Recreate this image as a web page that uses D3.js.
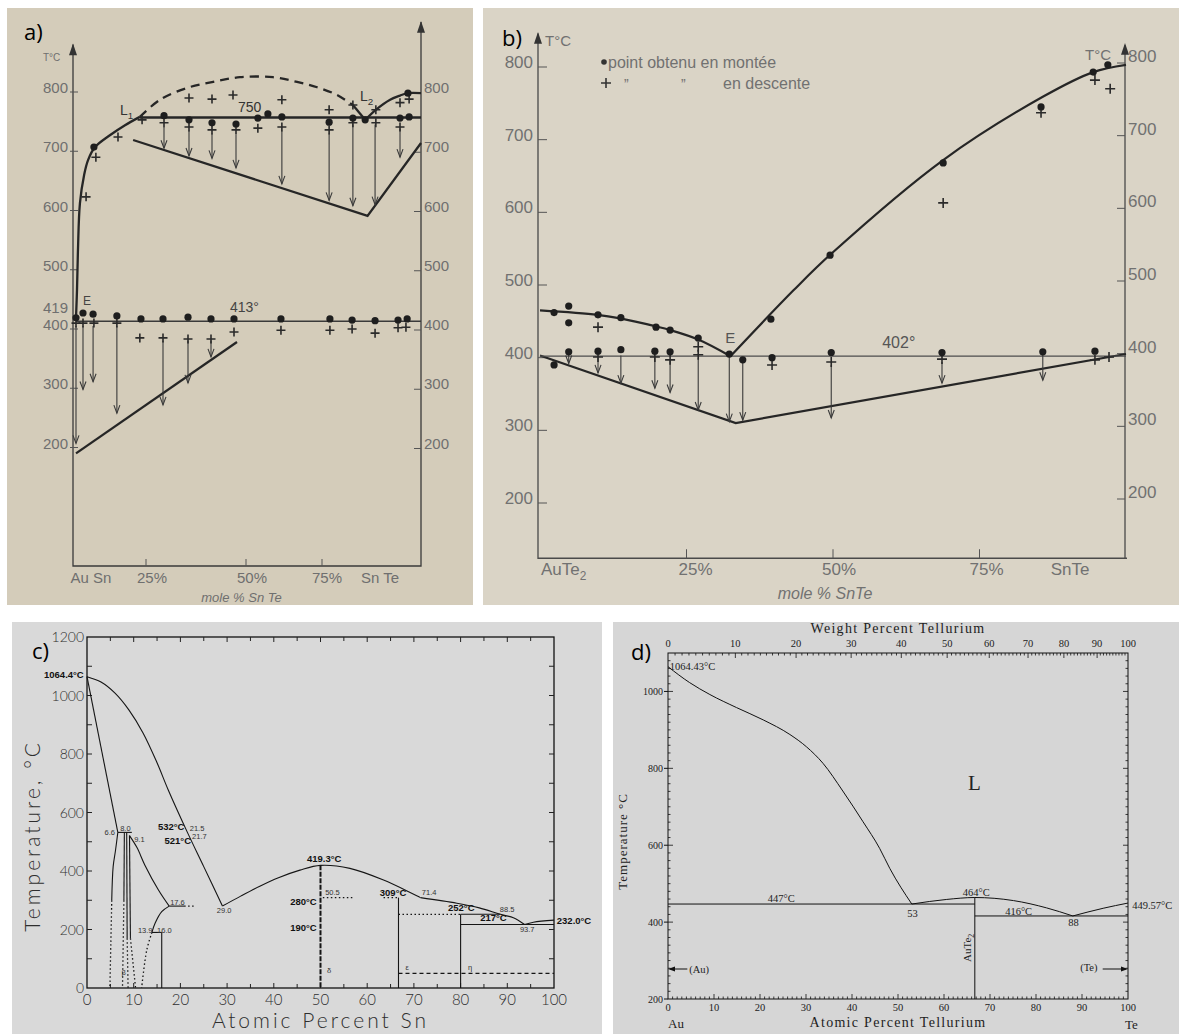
<!DOCTYPE html>
<html>
<head>
<meta charset="utf-8">
<script src="https://cdn.jsdelivr.net/npm/d3@7/dist/d3.min.js"></script>
<style>
  html, body { margin: 0; padding: 0; background: #ffffff; }
  svg { display: block; }
</style>
</head>
<body>
<script>
// ================= a) AuSn – SnTe section (mole % SnTe, °C) =================
const aCompTicks = [25, 50, 75];
const aCompLabels = ["Au Sn", "25%", "50%", "75%", "Sn Te"];
const aCompLabelValues = [0, 25, 50, 75, 100];
const aTempLeft = [800, 700, 600, 500, 419, 400, 300, 200];
const aTempRight = [800, 700, 600, 500, 400, 300, 200];
const aLiquidusAuSn = [[0,419],[0.36,466],[0.7,533],[1.4,612],[2.9,660],[4.3,685],[6.8,707],[12.1,727],[17.5,744],[22.8,758]];
const aGapDome = [[22.8,758],[28.5,787],[35.3,807],[41.8,817],[48.5,825],[58.9,825],[66.8,817],[73.4,808],[78.8,795],[82.8,778]];
const aLiquidusToL2 = [[82.8,778],[85.9,753]];
const aLiquidusSnTe = [[85.9,753],[88.6,770],[92.2,787],[94.7,794],[96.7,798],[100,798]];
const aMonotecticT = 757;
const aSolidusHigh = [[20.4,719],[86.5,591],[100,714]];
const aEutecticT = 413;
const aSolidusLow = [[0,190],[47.75,378]];
const aHeating = [[6.4,707],[29.5,760],[35.75,753],[41.5,748],[47.5,746],[53.9,756],[57.2,763],[61.8,758],
  [76.8,749],[82.8,756],[85.9,753],[94.7,756],[96.7,798],[97,758],
  [0,419],[2.5,427],[6.1,425],[14.6,422],[23.2,417],[29.25,417],[35.5,420],[41.25,417],[47,417],
  [61.5,417],[77,417],[82.6,415],[88.4,414],[94.2,415],[96.5,417]];
const aCooling = [[3.6,623],[7.1,690],[15,724],[23.6,753],[29.5,748],[35.75,790],[35.75,741],[41.5,788],[41.5,736],
  [46.75,795],[47.5,736],[53.9,739],[61.8,787],[61.8,741],[76.8,770],[76.8,736],[82.8,778],[82.8,748],
  [88.6,770],[88.6,748],[94.7,782],[94.7,741],[97,788],
  [0,410],[2.5,410],[6.4,410],[14.6,410],[22.8,385],[29.25,385],[35.5,383],[41.25,383],[47,395],
  [61.5,398],[77,398],[82.6,400],[88.4,393],[94.2,402],[96.2,403]];
// [composition, from T, to T]
const aArrows = [[29.5,741,705],[35.75,735,692],[41.5,730,688],[47.5,728,672],[61.8,735,645],[76.8,730,617],
  [82.8,745,608],[88.4,745,610],[94.7,738,690],
  [0,405,207],[2.5,405,298],[6.1,405,311],[14.6,405,258],[29.25,380,272],[35.5,380,309],[41.25,380,353]];

// ================= b) AuTe2 – SnTe section =================
const bCompTicks = [25, 50, 75];
const bCompLabelValues = [0, 25, 50, 75, 100];
const bTempTicks = [800, 700, 600, 500, 400, 300, 200];
const bLiquidusAuTe2 = [[0,465],[9.8,459],[13.7,454],[19.8,443],[22.2,438],[27,425],[32.5,402]];
const bLiquidusSnTe = [[32.5,402],[43.3,493],[49.7,543],[68.8,672],[85.8,759],[94.4,793],[100,803]];
const bEutecticT = 402;
const bSolidus = [[0,403],[33.4,310],[100,405]];
const bHeating = [[2.4,462],[4.9,471],[4.9,448],[9.9,459],[13.8,455],[19.8,442],[22.2,438],[27,427],[32.3,405],
  [34.6,397],[39.4,453],[39.6,400],[49.5,541],[68.8,668],[85.5,745],[94.4,793],[96.9,803],
  [2.4,390],[4.9,408],[9.9,409],[13.8,411],[19.6,409],[22.2,408],[49.7,407],[68.6,407],[85.8,408],[94.7,409]];
const bCooling = [[9.9,442],[9.9,401],[19.6,401],[22.2,397],[27,415],[27,404],[39.6,390],[49.7,394],[68.6,398],
  [94.7,397],[97.1,401],[68.8,613],[85.5,737],[94.7,782],[97.3,770]];
const bArrows = [[4.9,404,392],[9.9,400,379],[13.8,403,365],[19.6,400,358],[22.2,396,352],[27,400,328],
  [32.3,404,312],[34.6,396,314],[49.7,390,317],[68.6,394,365],[85.8,404,369]];

// ================= c) Au – Sn (atomic percent Sn) =================
const cTempLabels = [0, 200, 400, 600, 800, 1000, 1200];
const cCompLabels = [0, 10, 20, 30, 40, 50, 60, 70, 80, 90, 100];
const cLiquidusAu = [[0,1064.4],[3,1046],[6,1008],[9,950],[12,872],[15,770],[17.4,677],[21.5,532],[25,415],[29,280]];
const cLiquidusSnA = [[29,280],[33,315],[37,348],[41,377],[45.6,403],[50,419.3],[56.3,409],[63.5,369],[71.4,309]];
const cLiquidusSnB = [[71.4,309],[79.2,290],[84,274],[88.5,252],[91.3,240],[93.7,217]];
const cLiquidusSnC = [[93.7,217],[95.6,225],[100,232]];
const cAlphaSolidus = [[0,1064.4],[6.6,532]];
const cAlphaSolvus = [[6.6,532],[6.1,470],[5.6,415],[5.3,300]];
const cAlphaSolvusLow = [[5.3,300],[5.1,150],[4.9,0]];
const cBetaLeft = [[8.0,532],[7.9,300]];
const cBetaLeftLow = [[7.9,300],[7.6,0]];
const cBetaRight = [[8.5,532],[8.6,170]];
const cBetaRightLow = [[8.6,170],[8.8,0]];
const cZetaLeft = [[9.1,521],[9.3,170]];
const cZetaLeftLow = [[9.3,170],[10.4,0]];
const cZetaLiquidus = [[9.1,521],[10.7,480],[12.4,420],[15.3,335],[17.6,280]];
const cZetaSolvus = [[17.6,280],[16,261],[14.6,222],[13.9,190]];
const cZetaSolvusLow = [[13.9,190],[12.8,130],[11.7,0]];
// [T, from %, to %]
const cSolidIsotherms = [[532,6.6,9.6],[190,13.9,16.0],[280,17.6,20.8],[252,80,88.5],[217,80,100]];
const cDottedIsotherms = [[280,20.8,23],[309,50.5,57],[309,63.5,66.7],[252,66.7,80]];
const cDashedIsotherms = [[50,66.7,100]];
// [%, top T, bottom T]
const cCompounds = [[16.0,190,0],[66.7,309,0],[80,252,0]];
const cDelta = [50,419.3,0];
// [text, %, T, anchor, bold]
const cNotes = [["1064.4°C",-0.7,1060,"end",1],["6.6",6.0,523,"end",0],["8.0",7.1,537,"start",0],
  ["9.1",10.1,499,"start",0],["532°C",15.2,540,"start",1],["521°C",16.6,492,"start",1],
  ["21.5",22.0,537,"start",0],["21.7",22.5,509,"start",0],["17.6",17.8,284,"start",0],
  ["29.0",27.8,257,"start",0],["13.9",10.9,188,"start",0],["16.0",15.0,188,"start",0],
  ["280°C",43.5,284,"start",1],["190°C",43.5,195,"start",1],["50.5",51.0,318,"start",0],
  ["419.3°C",47.1,431,"start",1],["309°C",62.7,315,"start",1],["71.4",71.7,318,"start",0],
  ["252°C",77.3,262,"start",1],["88.5",88.4,261,"start",0],["217°C",84.2,230,"start",1],
  ["93.7",92.7,190,"start",0],["232.0°C",100.6,219,"start",1],
  ["δ",51.4,52,"start",0],["ε",68.2,60,"start",0],["η",81.6,62,"start",0],["β",7.4,45,"start",0]];

// ================= d) Au – Te (atomic / weight percent Te) =================
const dTempLabels = [200, 400, 600, 800, 1000];
const dAtomicLabels = [0, 10, 20, 30, 40, 50, 60, 70, 80, 90, 100];
const dWeightLabels = [0, 10, 20, 30, 40, 50, 60, 70, 80, 90, 100];
const dMassAu = 196.97, dMassTe = 127.60;
const dLiquidusAu = [[0,1064.43],[4.7,1023],[9.1,992],[14.9,958],[20.7,926],[26.5,888],[30.1,856],[33.7,813],
  [38,741],[42.4,661],[46,592],[48.2,540],[53,447]];
const dLiquidusAuTe2 = [[53,447],[60.6,459],[66.7,464],[75.1,456],[82.3,437],[88,416]];
const dLiquidusTe = [[88,416],[94.6,436],[100,449.57]];
// [T, from %, to %]
const dEutectics = [[447,0,66.7],[416,66.7,100]];
const dCompound = [66.7,464,200];
const dNotes = [["1064.43°C",0.4,1056],["447°C",21.7,452],["53",52,413],["464°C",64.1,468],
  ["416°C",73.3,418],["88",87,390],["449.57°C",100.9,434]];

// ---------------------------------------------------------------------------
const svg = d3.select("body").append("svg").attr("width", 1179).attr("height", 1034);

// panel backgrounds
svg.append("rect").attr("x", 7).attr("y", 8).attr("width", 466).attr("height", 597).attr("fill", "#d4ccba");
svg.append("rect").attr("x", 483).attr("y", 8).attr("width", 696).attr("height", 597).attr("fill", "#dad4c6");
svg.append("rect").attr("x", 12).attr("y", 622).attr("width", 590).attr("height", 412).attr("fill", "#d9d9d9");
svg.append("rect").attr("x", 613).attr("y", 622).attr("width", 566).attr("height", 412).attr("fill", "#d6d6d6");

function drawDot(g, x, y, r, color) {
  g.append("circle").attr("cx", x).attr("cy", y).attr("r", r).attr("fill", color);
}
function drawPlus(g, x, y, s, color, w) {
  g.append("path").attr("d", `M${x - s},${y}H${x + s}M${x},${y - s}V${y + s}`)
    .attr("stroke", color).attr("stroke-width", w).attr("fill", "none");
}
function drawDownArrow(g, x, y1, y2, color) {
  g.append("line").attr("x1", x).attr("x2", x).attr("y1", y1).attr("y2", y2)
    .attr("stroke", color).attr("stroke-width", 1.1);
  g.append("path").attr("d", `M${x - 3},${y2 - 8}L${x},${y2}L${x + 3},${y2 - 8}`)
    .attr("stroke", color).attr("stroke-width", 1.1).attr("fill", "none");
}
function label(g, x, y, txt, size, opts = {}) {
  return g.append("text").attr("x", x).attr("y", y).text(txt)
    .attr("font-size", size)
    .attr("font-family", opts.family || "Liberation Sans, Arial, sans-serif")
    .attr("fill", opts.fill || "#222")
    .attr("text-anchor", opts.anchor || "start")
    .attr("font-weight", opts.weight || "normal")
    .attr("font-style", opts.style || "normal");
}
function subLabel(g, x, y, main, sub, size, fill) {
  const t = g.append("text").attr("x", x).attr("y", y).attr("font-size", size)
    .attr("font-family", "Liberation Sans, Arial, sans-serif").attr("fill", fill);
  t.append("tspan").text(main);
  t.append("tspan").attr("dy", size * 0.3).attr("font-size", size * 0.7).text(sub);
  return t;
}
function panelTag(txt, x, y) {
  return label(svg, x, y, txt, 22, { family: "Open Sans, Liberation Sans, sans-serif", fill: "#000" });
}

// ============================== panel a ==============================
{
  const g = svg.append("g");
  const ink = "#262626", grey = "#6f6f6f";
  const x = d3.scaleLinear().domain([0, 25, 50, 75, 100]).range([76, 146, 246, 322, 421]);
  const y = d3.scaleLinear().domain([0, 800]).range([566, 92]);
  const line = d3.line().x(d => x(d[0])).y(d => y(d[1]));
  const smooth = d3.line().x(d => x(d[0])).y(d => y(d[1])).curve(d3.curveCatmullRom.alpha(0.5));
  const axL = x(0) - 3, axR = x(100);

  g.append("path").attr("d", `M${axL},${y(880)}V${y(0)}H${axR}V${y(918)}`)
    .attr("stroke", "#3a3a3a").attr("stroke-width", 1.3).attr("fill", "none");
  g.append("path").attr("d", `M${axL - 4},${y(862)}L${axL},${y(882)}L${axL + 4},${y(862)}Z`).attr("fill", "#333");
  g.append("path").attr("d", `M${axR - 4},${y(900)}L${axR},${y(920)}L${axR + 4},${y(900)}Z`).attr("fill", "#333");
  label(g, axL - 30, y(852), "T°C", 10, { fill: grey });

  aTempLeft.forEach(t => {
    if (t !== 419) g.append("line").attr("x1", axL - 3).attr("x2", axL + 5).attr("y1", y(t)).attr("y2", y(t))
      .attr("stroke", "#555").attr("stroke-width", 1);
    label(g, axL - 5, y(t) + (t === 419 ? -5 : 1), String(t), 15, { anchor: "end", fill: grey });
  });
  aTempRight.forEach(t => {
    g.append("line").attr("x1", axR - 7).attr("x2", axR).attr("y1", y(t) + 1).attr("y2", y(t) + 1)
      .attr("stroke", "#555").attr("stroke-width", 1);
    label(g, axR + 3, y(t) + 1, String(t), 15, { fill: grey });
  });
  aCompTicks.forEach(c => g.append("line").attr("x1", x(c)).attr("x2", x(c)).attr("y1", y(0)).attr("y2", y(0) - 7)
    .attr("stroke", "#555").attr("stroke-width", 1));
  const aLabelShift = [15, 6, 6, 5, -41];
  aCompLabels.forEach((s, i) => label(g, x(aCompLabelValues[i]) + aLabelShift[i], y(0) + 17, s, 15,
    { anchor: "middle", fill: grey }));
  label(g, (x(0) + x(100)) / 2 - 7, y(0) + 36, "mole % Sn Te", 13, { anchor: "middle", fill: grey, style: "italic" });

  const strong = p => p.attr("stroke", ink).attr("stroke-width", 2.3).attr("fill", "none");
  strong(g.append("path").attr("d", smooth(aLiquidusAuSn)));
  strong(g.append("path").attr("d", smooth(aGapDome))).attr("stroke-dasharray", "9,6");
  strong(g.append("path").attr("d", line(aLiquidusToL2)));
  strong(g.append("path").attr("d", smooth(aLiquidusSnTe)));
  strong(g.append("path").attr("d", line([[22.8, aMonotecticT], [100, aMonotecticT]])));
  strong(g.append("path").attr("d", line(aSolidusHigh)));
  strong(g.append("path").attr("d", line(aSolidusLow)));
  g.append("path").attr("d", line([[0, aEutecticT], [100, aEutecticT]]))
    .attr("stroke", "#3a3a3a").attr("stroke-width", 1.6).attr("fill", "none");

  aArrows.forEach(a => drawDownArrow(g, x(a[0]), y(a[1]), y(a[2]), "#3a3a3a"));
  aCooling.forEach(p => drawPlus(g, x(p[0]), y(p[1]), 4.5, "#2a2a2a", 1.6));
  aHeating.forEach(p => drawDot(g, x(p[0]), y(p[1]), 3.6, "#1e1e1e"));

  subLabel(g, x(15.7), y(761), "L", "1", 14, "#333");
  subLabel(g, x(84.6), y(785), "L", "2", 14, "#333");
  label(g, x(48), y(766), "750", 14, { fill: "#333" });
  label(g, x(2.5), y(440), "E", 12, { fill: "#444" });
  label(g, x(46), y(429), "413°", 14, { fill: "#444" });
  panelTag("a)", 24, 40);
}

// ============================== panel b ==============================
{
  const g = svg.append("g");
  const ink = "#262626", grey = "#717171";
  const x = d3.scaleLinear().domain([0, 100]).range([540, 1126]);
  const y = d3.scaleLinear().domain([200, 800]).range([503, 67]);
  const line = d3.line().x(d => x(d[0])).y(d => y(d[1]));
  const smooth = d3.line().x(d => x(d[0])).y(d => y(d[1])).curve(d3.curveCatmullRom.alpha(0.5));
  const axL = x(0) - 2, axR = x(100) - 1, yBase = y(124);

  g.append("path").attr("d", `M${axL},${y(846)}V${yBase}H${axR + 2}`)
    .attr("stroke", "#4a4a4a").attr("stroke-width", 1.3).attr("fill", "none");
  g.append("path").attr("d", `M${axR},${yBase}V${y(830)}`)
    .attr("stroke", "#4a4a4a").attr("stroke-width", 1.3).attr("fill", "none");
  g.append("path").attr("d", `M${axL - 4},${y(832)}L${axL},${y(848)}L${axL + 4},${y(832)}Z`).attr("fill", "#333");
  g.append("path").attr("d", `M${axR - 4},${y(817)}L${axR},${y(833)}L${axR + 4},${y(817)}Z`).attr("fill", "#333");
  label(g, axL + 7, y(829), "T°C", 15, { fill: grey });
  label(g, axR - 40, y(809), "T°C", 15, { fill: grey });

  bTempTicks.forEach(t => {
    g.append("line").attr("x1", axL).attr("x2", axL + 9).attr("y1", y(t)).attr("y2", y(t))
      .attr("stroke", "#555").attr("stroke-width", 1);
    label(g, axL - 5, y(t) + 1, String(t), 17, { anchor: "end", fill: grey });
    g.append("line").attr("x1", axR - 8).attr("x2", axR).attr("y1", y(t) - 4).attr("y2", y(t) - 4)
      .attr("stroke", "#555").attr("stroke-width", 1);
    label(g, axR + 3, y(t) - 5, String(t), 17, { fill: grey });
  });
  bCompTicks.forEach(c => g.append("line").attr("x1", x(c)).attr("x2", x(c)).attr("y1", yBase).attr("y2", yBase - 9)
    .attr("stroke", "#555").attr("stroke-width", 1));
  const bShift = [12, 9, 6, 7, -56];
  subLabel(g, x(bCompLabelValues[0]) + bShift[0] - 11, yBase + 17, "AuTe", "2", 17, grey);
  ["25%", "50%", "75%"].forEach((s, i) =>
    label(g, x(bCompLabelValues[i + 1]) + bShift[i + 1], yBase + 17, s, 17, { anchor: "middle", fill: grey }));
  label(g, x(100) + bShift[4], yBase + 17, "SnTe", 17, { anchor: "middle", fill: grey });
  label(g, x(50) - 8, yBase + 41, "mole % SnTe", 16, { anchor: "middle", fill: grey, style: "italic" });

  const strong = p => p.attr("stroke", ink).attr("stroke-width", 2.2).attr("fill", "none");
  strong(g.append("path").attr("d", smooth(bLiquidusAuTe2)));
  strong(g.append("path").attr("d", smooth(bLiquidusSnTe)));
  strong(g.append("path").attr("d", line(bSolidus)));
  g.append("path").attr("d", line([[0, bEutecticT], [100, bEutecticT]]))
    .attr("stroke", "#4d4d4d").attr("stroke-width", 1.2).attr("fill", "none");

  bArrows.forEach(a => drawDownArrow(g, x(a[0]), y(a[1]), y(a[2]), "#3a3a3a"));
  bCooling.forEach(p => drawPlus(g, x(p[0]), y(p[1]), 5, "#2a2a2a", 1.6));
  bHeating.forEach(p => drawDot(g, x(p[0]), y(p[1]), 3.6, "#1e1e1e"));

  label(g, x(31.6), y(420), "E", 15, { fill: "#555" });
  label(g, x(58.4), y(413), "402°", 16, { fill: "#555" });

  // legend
  drawDot(g, 604, 62, 2.8, "#333");
  label(g, 608, 68, "point obtenu en montée", 16, { fill: grey });
  drawPlus(g, 606, 83, 5, "#333", 1.6);
  label(g, 624, 89, "\u201D", 14, { fill: grey });
  label(g, 681, 89, "\u201D", 14, { fill: grey });
  label(g, 723, 89, "en descente", 16, { fill: grey });
  panelTag("b)", 502, 46);
}

// ============================== panel c ==============================
{
  const g = svg.append("g");
  const ink = "#151515";
  const x = d3.scaleLinear().domain([0, 100]).range([87, 554]);
  const y = d3.scaleLinear().domain([0, 1200]).range([988, 637]);
  const line = d3.line().x(d => x(d[0])).y(d => y(d[1]));
  const smooth = d3.line().x(d => x(d[0])).y(d => y(d[1])).curve(d3.curveCatmullRom.alpha(0.5));
  const sans = "Lato, Liberation Sans, sans-serif";

  g.append("rect").attr("x", x(0)).attr("y", y(1200)).attr("width", x(100) - x(0)).attr("height", y(0) - y(1200))
    .attr("fill", "none").attr("stroke", "#111").attr("stroke-width", 1.3);
  d3.range(5, 100, 5).forEach(c => {
    const len = c % 10 === 0 ? 5 : 4;
    g.append("line").attr("x1", x(c)).attr("x2", x(c)).attr("y1", y(0)).attr("y2", y(0) - len).attr("stroke", "#222");
    g.append("line").attr("x1", x(c)).attr("x2", x(c)).attr("y1", y(1200)).attr("y2", y(1200) + len).attr("stroke", "#222");
  });
  d3.range(100, 1200, 100).forEach(t => {
    g.append("line").attr("x1", x(0)).attr("x2", x(0) + 5).attr("y1", y(t)).attr("y2", y(t)).attr("stroke", "#222");
    g.append("line").attr("x1", x(100)).attr("x2", x(100) - 5).attr("y1", y(t)).attr("y2", y(t)).attr("stroke", "#222");
  });
  cTempLabels.forEach(t => label(g, x(0) - 3, y(t) + 5, String(t), 14,
    { anchor: "end", family: sans, fill: "#2e2e2e", weight: 300 }));
  cCompLabels.forEach(c => label(g, x(c), y(0) + 17, String(c), 15,
    { anchor: "middle", family: sans, fill: "#2e2e2e", weight: 300 }));
  label(g, x(50), y(0) + 40, "Atomic Percent Sn", 21, { anchor: "middle", family: sans, fill: "#2e2e2e", weight: 300 })
    .attr("letter-spacing", 3);
  label(g, 0, 0, "Temperature, °C", 21, { anchor: "middle", family: sans, fill: "#2e2e2e", weight: 300 })
    .attr("letter-spacing", 3).attr("transform", `translate(40,${y(520)}) rotate(-90)`);

  const solid = p => p.attr("stroke", ink).attr("stroke-width", 1.1).attr("fill", "none");
  const dotted = p => p.attr("stroke", ink).attr("stroke-width", 1.3).attr("stroke-dasharray", "1.5,2.5").attr("fill", "none");
  [cLiquidusAu, cLiquidusSnA, cLiquidusSnB, cLiquidusSnC, cZetaLiquidus, cZetaSolvus, cAlphaSolvus]
    .forEach(d => solid(g.append("path").attr("d", smooth(d))));
  [cAlphaSolidus, cBetaLeft, cBetaRight, cZetaLeft].forEach(d => solid(g.append("path").attr("d", line(d))));
  [cAlphaSolvusLow, cZetaSolvusLow].forEach(d => dotted(g.append("path").attr("d", smooth(d))));
  [cBetaLeftLow, cBetaRightLow, cZetaLeftLow].forEach(d => dotted(g.append("path").attr("d", line(d))));
  cSolidIsotherms.forEach(r => solid(g.append("path").attr("d", line([[r[1], r[0]], [r[2], r[0]]]))));
  cDottedIsotherms.forEach(r => dotted(g.append("path").attr("d", line([[r[1], r[0]], [r[2], r[0]]]))));
  cDashedIsotherms.forEach(r => solid(g.append("path").attr("d", line([[r[1], r[0]], [r[2], r[0]]])))
    .attr("stroke-dasharray", "4,3"));
  cCompounds.forEach(r => solid(g.append("path").attr("d", line([[r[0], r[1]], [r[0], r[2]]]))));
  g.append("path").attr("d", line([[cDelta[0], cDelta[1]], [cDelta[0], cDelta[2]]]))
    .attr("stroke", ink).attr("stroke-width", 2).attr("stroke-dasharray", "5,1.5").attr("fill", "none");

  cNotes.forEach(n => label(g, x(n[1]), y(n[2]), n[0], n[4] ? 9.5 : 7.5,
    { anchor: n[3], weight: n[4] ? "bold" : "normal", fill: n[4] ? "#111" : "#333" }));
  panelTag("c)", 32, 659);
}

// ============================== panel d ==============================
{
  const g = svg.append("g");
  const ink = "#111";
  const x = d3.scaleLinear().domain([0, 100]).range([668, 1128]);
  const y = d3.scaleLinear().domain([200, 1100]).range([999, 653]);
  const line = d3.line().x(d => x(d[0])).y(d => y(d[1]));
  const smooth = d3.line().x(d => x(d[0])).y(d => y(d[1])).curve(d3.curveMonotoneX);
  const serif = "Liberation Serif, DejaVu Serif, serif";
  const atFromWt = w => w >= 100 ? 100 : (w / dMassTe) / (w / dMassTe + (100 - w) / dMassAu) * 100;

  g.append("rect").attr("x", x(0)).attr("y", y(1100)).attr("width", x(100) - x(0)).attr("height", y(200) - y(1100))
    .attr("fill", "none").attr("stroke", ink).attr("stroke-width", 1);
  d3.range(1, 100, 1).forEach(c => {
    g.append("line").attr("x1", x(c)).attr("x2", x(c)).attr("y1", y(200)).attr("y2", y(200) - (c % 10 === 0 ? 5 : 2.5))
      .attr("stroke", ink).attr("stroke-width", 0.8);
  });
  d3.range(1, 100, 1).forEach(w => {
    g.append("line").attr("x1", x(atFromWt(w))).attr("x2", x(atFromWt(w))).attr("y1", y(1100))
      .attr("y2", y(1100) + (w % 10 === 0 ? 5 : 2.5)).attr("stroke", ink).attr("stroke-width", 0.8);
  });
  d3.range(220, 1100, 20).forEach(t => {
    const len = t % 200 === 0 ? 5 : 2.5;
    g.append("line").attr("x1", x(0)).attr("x2", x(0) + len).attr("y1", y(t)).attr("y2", y(t)).attr("stroke", ink).attr("stroke-width", 0.8);
    g.append("line").attr("x1", x(100)).attr("x2", x(100) - len).attr("y1", y(t)).attr("y2", y(t)).attr("stroke", ink).attr("stroke-width", 0.8);
  });
  dTempLabels.forEach(t => {
    g.append("line").attr("x1", x(0) - 4).attr("x2", x(0)).attr("y1", y(t)).attr("y2", y(t)).attr("stroke", ink);
    label(g, x(0) - 5, y(t) + 3.5, String(t), 10, { anchor: "end", family: serif, fill: "#222" });
  });
  dAtomicLabels.forEach(c => label(g, x(c), y(200) + 12, String(c), 10.5, { anchor: "middle", family: serif, fill: "#222" }));
  dWeightLabels.forEach(w => label(g, x(atFromWt(w)), y(1100) - 6, String(w), 10.5, { anchor: "middle", family: serif, fill: "#222" }));
  label(g, x(50), y(1100) - 20, "Weight Percent Tellurium", 14, { anchor: "middle", family: serif, fill: "#222" })
    .attr("letter-spacing", 1.3);
  label(g, x(50), y(200) + 28, "Atomic Percent Tellurium", 14, { anchor: "middle", family: serif, fill: "#222" })
    .attr("letter-spacing", 1.3);
  label(g, x(0), y(200) + 29, "Au", 13, { family: serif, fill: "#222" });
  label(g, x(100) - 3, y(200) + 30, "Te", 13, { family: serif, fill: "#222" });
  label(g, 0, 0, "Temperature °C", 13, { anchor: "middle", family: serif, fill: "#222" })
    .attr("letter-spacing", 1).attr("transform", `translate(627,${y(610)}) rotate(-90)`);

  const solid = p => p.attr("stroke", ink).attr("stroke-width", 1).attr("fill", "none");
  [dLiquidusAu, dLiquidusAuTe2, dLiquidusTe].forEach(d => solid(g.append("path").attr("d", smooth(d))));
  dEutectics.forEach(r => solid(g.append("path").attr("d", line([[r[1], r[0]], [r[2], r[0]]]))));
  solid(g.append("path").attr("d", line([[dCompound[0], dCompound[1]], [dCompound[0], dCompound[2]]])));

  dNotes.forEach(n => label(g, x(n[1]), y(n[2]), n[0], 10.5, { family: serif, fill: "#222" }));
  label(g, x(65.2), y(744), "L", 21, { family: serif, fill: "#222" });
  const rot = g.append("text").attr("font-family", serif).attr("font-size", 11).attr("fill", "#222")
    .attr("text-anchor", "middle").attr("transform", `translate(${x(66.7) - 4},${y(333)}) rotate(-90)`);
  rot.append("tspan").text("AuTe");
  rot.append("tspan").attr("dy", 3).attr("font-size", 8).text("2");
  // terminal solid solutions
  label(g, x(4.6), y(268), "(Au)", 10.5, { family: serif, fill: "#222" });
  g.append("line").attr("x1", x(4.2)).attr("x2", x(0) + 2).attr("y1", y(278)).attr("y2", y(278)).attr("stroke", ink);
  g.append("path").attr("d", `M${x(0)},${y(278)}l7,-2.5v5z`).attr("fill", ink);
  label(g, x(89.6), y(273), "(Te)", 10.5, { family: serif, fill: "#222" });
  g.append("line").attr("x1", x(94.5)).attr("x2", x(100) - 2).attr("y1", y(278)).attr("y2", y(278)).attr("stroke", ink);
  g.append("path").attr("d", `M${x(100)},${y(278)}l-7,-2.5v5z`).attr("fill", ink);
  panelTag("d)", 631, 660);
}
</script>
</body>
</html>
